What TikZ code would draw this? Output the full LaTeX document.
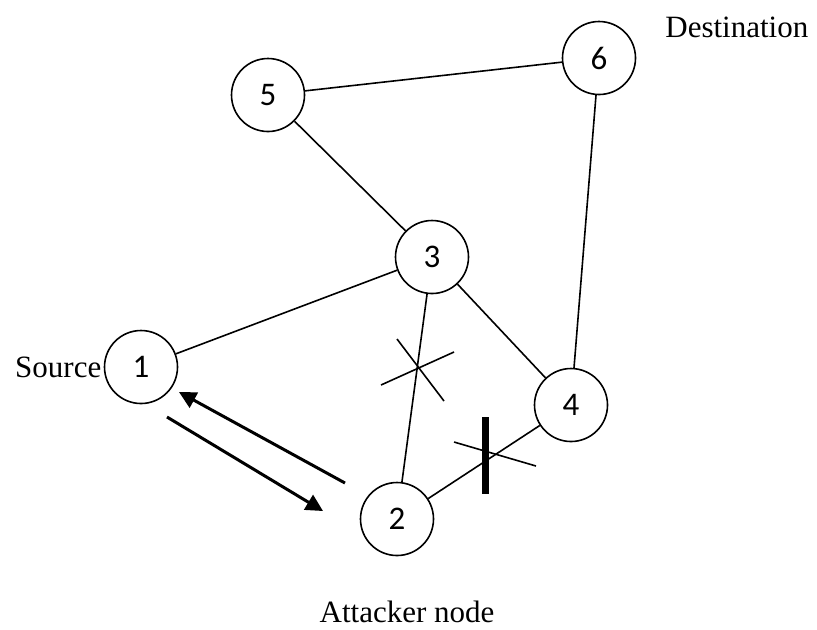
\documentclass[tikz,border=0pt]{standalone}
\usepackage{fontspec}
\setmainfont{Liberation Serif}
\newfontfamily\numfont{Carlito}
\usetikzlibrary{arrows.meta}

\begin{document}
\begin{tikzpicture}[x=.5pt,y=-.5pt,
    station/.style={circle,draw,line width=.8pt,minimum size=36.5pt,inner sep=0pt,
      font=\numfont\fontsize{16.5}{16.5}\selectfont},
    tag/.style={font=\fontsize{15.5}{18}\selectfont,inner sep=1pt},
    link/.style={line width=.8pt},
    msg/.style={line width=1.5pt,-{Triangle[length=8.5pt,width=8.5pt]}}]
    \useasboundingbox (0,0) rectangle (817,629);
    % Knoten des Netzes
    \foreach \n/\x/\y in {1/141/367,2/397/519,3/432/257,4/571/405,5/268/95,6/599/58}{
      \node[station] (n\n) at (\x,\y) {\n};
    }
    \node[tag,anchor=east] (src) at (n1.west) {Source};
    \node[tag,anchor=west] (dst) at (663,27) {Destination};
    \node[tag] (att) at (407,612) {Attacker node};
    % Verbindungen
    \draw[link] (n5) -- (n6);
    \draw[link] (n5) -- (n3);
    \draw[link] (n3) -- (n1);
    \draw[link] (n3) -- (n2);
    \draw[link] (n3) -- (n4);
    \draw[link] (n4) -- (n6);
    \draw[link] (n2) -- (n4);
    % unterbrochene Wege
    \draw[link] (397,339) -- (444,401) (381,385) -- (454,352);
    \draw[link] (454,442) -- (536,466);
    \draw[line width=3.5pt] (485,417) -- (485,494);
    % Nachrichten zwischen 1 und 2
    \coordinate (r1) at (345,483);
    \coordinate (r2) at (179,392);
    \coordinate (s1) at (167,417);
    \coordinate (s2) at (323,511);
    \draw[msg] (r1) -- (r2);
    \draw[msg] (s1) -- (s2);
  \end{tikzpicture}
\end{document}
